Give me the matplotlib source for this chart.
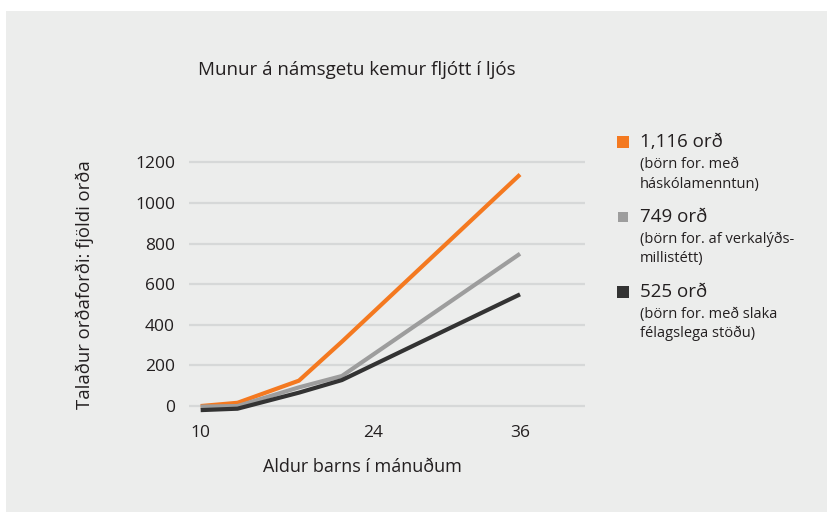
import numpy as np
import matplotlib
matplotlib.use("Agg")
import matplotlib.pyplot as plt
from matplotlib.patches import Rectangle

plt.rcParams['font.family'] = ['Open Sans', 'DejaVu Sans']

# data
months = [10, 13, 18, 21.5, 36]
high = [0, 16, 125, 317, 1140]
middle = [-3, 0, 92, 148, 750]
low = [-20, -13, 66, 128, 550]

series_vals = [high, middle, low]
series_colors = ['#f47920', '#9d9d9d', '#333333']
series_heads = ['1,116 orð', '749 orð', '525 orð']
series_subs = ['(börn for. með\nháskólamenntun)',
               '(börn for. af verkalýðs-\nmillistétt)',
               '(börn for. með slaka\nfélagslega stöðu)']

xticks = [10, 24, 36]
yticks = [0, 200, 400, 600, 800, 1000, 1200]

W, H = 828, 512
bg = '#ecedec'
txt = '#231f20'

fig = plt.figure(figsize=(W / 100, H / 100), dpi=100, facecolor='white')
fig.patches.append(Rectangle((6 / W, 0), 1 - 6 / W, 1 - 11 / H,
                             transform=fig.transFigure, facecolor=bg,
                             edgecolor='none', zorder=-10))

ax = fig.add_axes([189 / W, (H - 416.2) / H, 396 / W, 264 / H])
ax.set_facecolor(bg)
ax.patch.set_alpha(0)

for vals, c in zip(series_vals, series_colors):
    ax.plot(months, vals, color=c, lw=3.0, solid_capstyle='butt',
            solid_joinstyle='miter', zorder=3)

ax.set_xlim(9.05, 41.29)
ax.set_ylim(-50, 1250)
ax.set_xticks(xticks)
ax.set_yticks(yticks)
ax.set_xticklabels([str(t) for t in xticks])
ax.set_yticklabels([str(t) for t in yticks])
ax.tick_params(length=0, labelsize=12.5, colors=txt)
ax.tick_params(axis='y', pad=10)
ax.tick_params(axis='x', pad=6)
ax.grid(axis='y', color='#d6d8d8', lw=1.6)
ax.grid(axis='x', visible=False)
ax.set_axisbelow(True)
for s in ax.spines.values():
    s.set_visible(False)

fig.text(357 / W, 1 - 70 / H, 'Munur á námsgetu kemur fljótt í ljós',
         ha='center', va='center', fontsize=13.5, color=txt)
fig.text(362 / W, 1 - 467 / H, 'Aldur barns í mánuðum',
         ha='center', va='center', fontsize=13, color=txt)
fig.text(85 / W, 1 - 285 / H, 'Talaður orðaforði: fjöldi orða',
         ha='center', va='center', rotation=90, fontsize=13.3, color=txt)

# legend
head_y = [142.3, 216.7, 291.7]
sq = [12, 10, 12]
for hy, c, s, head, sub in zip(head_y, series_colors, sq, series_heads, series_subs):
    fig.patches.append(Rectangle(((622.7 - s / 2) / W, (H - hy - s / 2) / H),
                                 s / W, s / H, transform=fig.transFigure,
                                 facecolor=c, edgecolor='none'))
    fig.text(640 / W, 1 - hy / H, head, ha='left', va='center',
             fontsize=13.5, color=txt)
    fig.text(640 / W, 1 - (hy + 15) / H, sub, ha='left', va='top',
             fontsize=10.5, color=txt, linespacing=1.4)

fig.savefig('out.png', dpi=100, facecolor=fig.get_facecolor())
